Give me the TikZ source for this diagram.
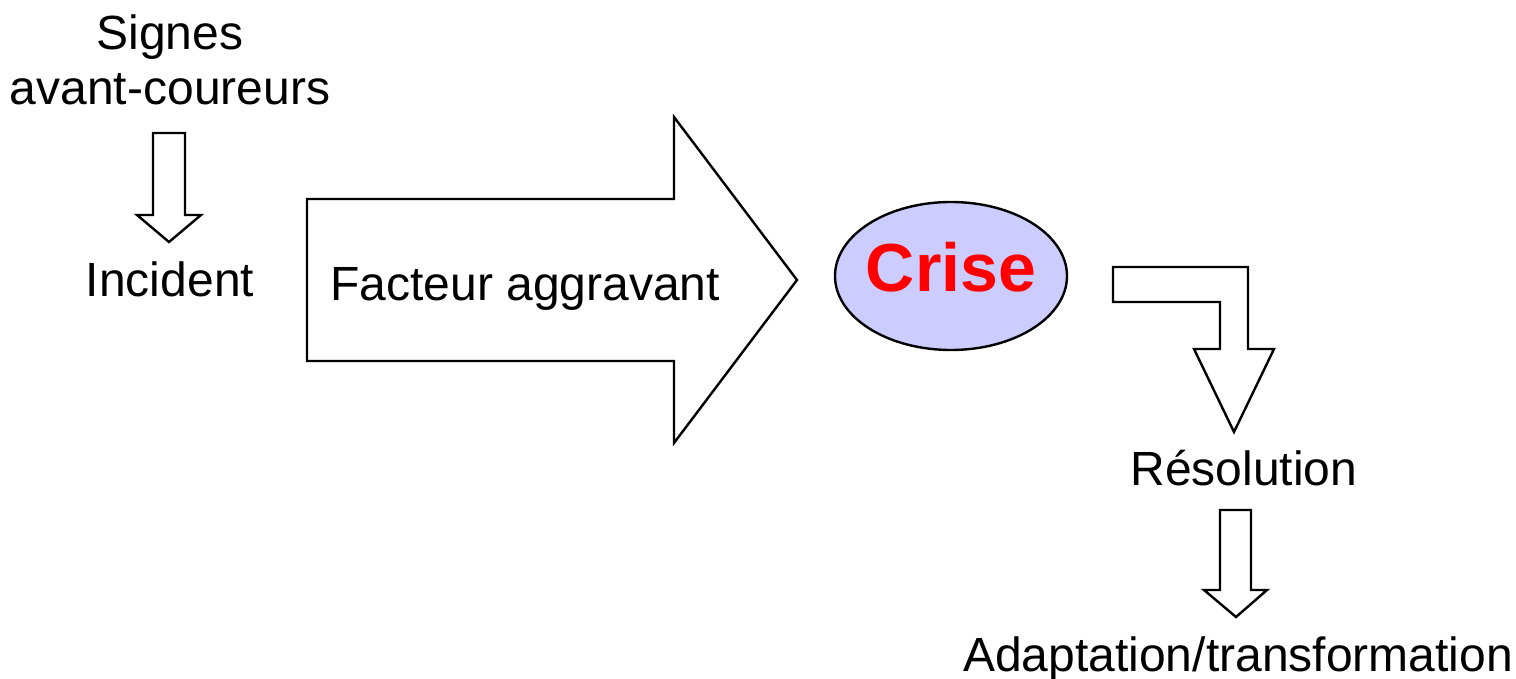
\documentclass[tikz,border=0pt]{standalone}
\usepackage{fontspec}
\setmainfont{Liberation Sans}
\usetikzlibrary{shapes.geometric}
\definecolor{criseFill}{RGB}{204,204,255}
\definecolor{criseText}{RGB}{255,0,0}
\tikzset{
  blockarrow/.style={draw=black, line width=1.2pt, fill=white, line join=miter},
  label/.style={font=\fontsize{24pt}{28pt}\selectfont, inner sep=0pt, anchor=base},
}
\begin{document}
\begin{tikzpicture}[x=0.5pt, y=-0.5pt]
\useasboundingbox (0,0) rectangle (1516,679);

% warning signs -> incident
\draw[blockarrow] (153,133) -- (185,133) -- (185,215) -- (201,215) -- (169,242)
  -- (137,215) -- (153,215) -- cycle;

% large aggravating-factor arrow
\draw[blockarrow] (307,199) -- (674,199) -- (674,117) -- (797,280) -- (674,443)
  -- (674,361) -- (307,361) -- cycle;

% bent arrow from the crisis to its resolution
\draw[blockarrow] (1113,267) -- (1248,267) -- (1248,349) -- (1274,349) -- (1234,432)
  -- (1194,349) -- (1220,349) -- (1220,302) -- (1113,302) -- cycle;

% resolution -> adaptation
\draw[blockarrow] (1220,510) -- (1251,510) -- (1251,590) -- (1267,590) -- (1236,617)
  -- (1204,590) -- (1220,590) -- cycle;

% crisis ellipse (sizes in pt: half the pixel measure)
\node[ellipse, draw=black, line width=1.2pt, fill=criseFill,
      minimum width=116pt, minimum height=74pt, inner sep=0pt] (crise) at (951,276) {};
\node[font=\fontsize{34pt}{40pt}\selectfont\bfseries, text=criseText,
      inner sep=0pt, anchor=base] (crisetext) at (951,292) {Crise};

% labels
\node[label] (signes) at (170,50) {Signes};
\node[label] (avant) at (170,105) {avant-coureurs};
\node[label] (incident) at (170,297) {Incident};
\node[label, anchor=base west] (facteur) at (330,301) {Facteur aggravant};
\node[label] (resolution) at (1244,485) {Résolution};
\node[label] (adapt) at (1238,671) {Adaptation/transformation};
\end{tikzpicture}
\end{document}
